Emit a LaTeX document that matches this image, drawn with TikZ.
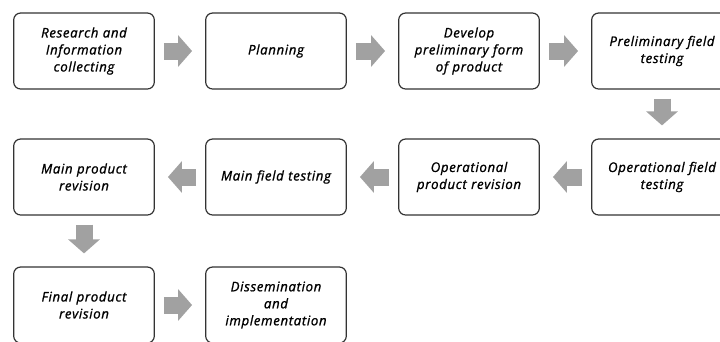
\documentclass[tikz,border=0pt]{standalone}
\usepackage{fontspec}
\newfontfamily\stagefont{Open Sans}[LetterSpace=5, ItalicFeatures={FakeBold=1.2}]
\usetikzlibrary{arrows.meta}

\begin{document}
\begin{tikzpicture}[x=1pt, y=1pt,
        stagebox/.style={draw=black!80, line width=1.2pt, rounded corners=7pt, rectangle,
            minimum width=140pt, minimum height=76pt, text width=134pt, align=center,
            font=\stagefont\fontsize{13.2}{17}\selectfont\itshape},
        flowarrow/.style={draw=black!37, line width=17pt,
            -{Triangle[length=14pt, width=31pt]}, shorten <=9pt, shorten >=13pt}]
        \path[use as bounding box] (0,0) rectangle (720,-341);

        \node (res) [stagebox] at (84,-51) {Research and\\ Information\\ collecting};
        \node (plan) [stagebox, right of=res, node distance=192pt] {Planning};
        \node (dev) [stagebox, right of=plan, node distance=193pt] {Develop\\ preliminary form\\ of product};
        \node (prelim) [stagebox, right of=dev, node distance=193pt] {Preliminary field\\ testing};
        \node (opfield) [stagebox, below of=prelim, node distance=126pt] {Operational field\\ testing};
        \node (oprev) [stagebox, left of=opfield, node distance=193pt] {Operational\\ product revision};
        \node (mainfield) [stagebox, left of=oprev, node distance=193pt] {Main field testing};
        \node (mainrev) [stagebox, left of=mainfield, node distance=192pt] {Main product\\ revision};
        \node (finalrev) [stagebox, below of=mainrev, node distance=128pt] {Final product\\ revision};
        \node (dissem) [stagebox, right of=finalrev, node distance=192pt] {Dissemination\\ and\\ implementation};

        \draw[flowarrow] (res) -- (plan);
        \draw[flowarrow] (plan) -- (dev);
        \draw[flowarrow] (dev) -- (prelim);
        \draw[flowarrow] (prelim) -- (opfield);
        \draw[flowarrow] (opfield) -- (oprev);
        \draw[flowarrow] (oprev) -- (mainfield);
        \draw[flowarrow] (mainfield) -- (mainrev);
        \draw[flowarrow] (mainrev) -- (finalrev);
        \draw[flowarrow] (finalrev) -- (dissem);
    \end{tikzpicture}
\end{document}
